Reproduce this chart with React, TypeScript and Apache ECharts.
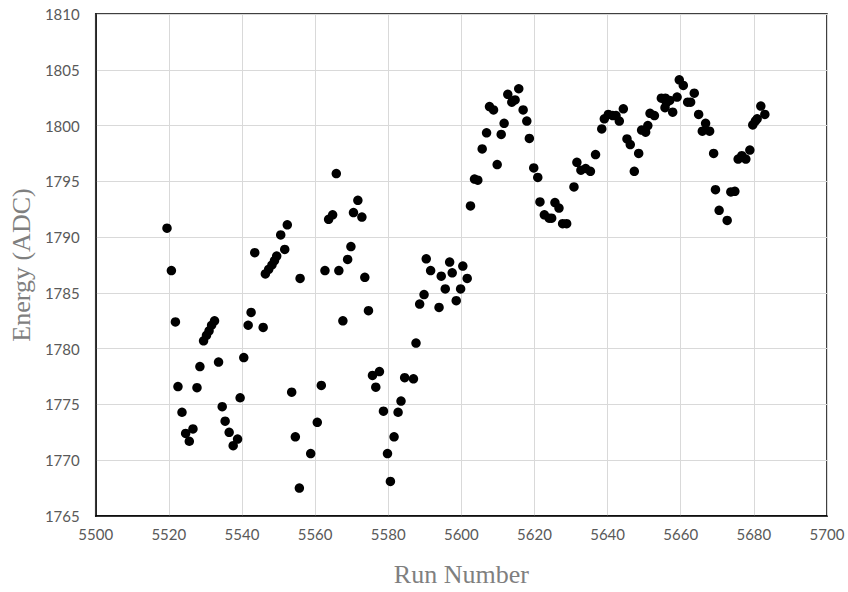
import React, { useEffect, useRef } from "react";
import * as echarts from "echarts";

// Run numbers and measured energies (ADC), in run order
const runs: number[] = [
  5519.5, 5520.7, 5521.8, 5522.5, 5523.6, 5524.6, 5525.6, 5526.6, 5527.7, 5528.5,
  5529.5, 5530.3, 5531.0, 5531.7, 5532.5, 5533.6, 5534.6, 5535.4, 5536.5, 5537.6,
  5538.8, 5539.5, 5540.5, 5541.7, 5542.5, 5543.5, 5545.8, 5546.4, 5547.3, 5548.2,
  5548.9, 5549.5, 5550.6, 5551.7, 5552.4, 5553.6, 5554.6, 5555.7, 5555.9, 5558.8,
  5560.6, 5561.7, 5562.7, 5563.7, 5564.8, 5565.8, 5566.5, 5567.6, 5568.9, 5569.8,
  5570.5, 5571.7, 5572.8, 5573.6, 5574.6, 5575.7, 5576.6, 5577.6, 5578.7, 5579.8,
  5580.6, 5581.6, 5582.7, 5583.5, 5584.5, 5586.9, 5587.6, 5588.6, 5589.8, 5590.4,
  5591.6, 5593.9, 5594.5, 5595.6, 5596.8, 5597.5, 5598.6, 5599.8, 5600.4, 5601.6,
  5602.5, 5603.6, 5604.5, 5605.7, 5606.9, 5607.7, 5608.8, 5609.8, 5610.9, 5611.7,
  5612.7, 5613.8, 5614.7, 5615.7, 5616.9, 5617.9, 5618.6, 5619.8, 5620.9, 5621.5,
  5622.7, 5624.0, 5624.7, 5625.6, 5626.7, 5627.7, 5628.8, 5630.8, 5631.6, 5632.7,
  5634.0, 5635.3, 5636.7, 5638.4, 5639.1, 5640.2, 5641.4, 5642.3, 5643.2, 5644.3,
  5645.3, 5646.2, 5647.3, 5648.5, 5649.3, 5650.4, 5651.0, 5651.6, 5652.8, 5654.7,
  5655.7, 5655.8, 5656.1, 5657.0, 5657.8, 5659.0, 5659.6, 5660.7, 5661.9, 5662.7,
  5663.7, 5664.9, 5665.9, 5666.8, 5667.9, 5669.0, 5669.5, 5670.5, 5672.7, 5673.7,
  5674.8, 5675.7, 5676.7, 5677.8, 5678.9, 5679.7, 5680.4, 5680.9, 5681.9, 5683.0,
];

const energies: number[] = [
  1790.8, 1787.0, 1782.4, 1776.6, 1774.3, 1772.4, 1771.7, 1772.8, 1776.5, 1778.4,
  1780.7, 1781.2, 1781.6, 1782.1, 1782.5, 1778.8, 1774.8, 1773.5, 1772.5, 1771.3,
  1771.9, 1775.6, 1779.2, 1782.1, 1783.25, 1788.6, 1781.9, 1786.7, 1787.1, 1787.5,
  1787.9, 1788.3, 1790.2, 1788.9, 1791.1, 1776.1, 1772.1, 1767.5, 1786.3, 1770.6,
  1773.4, 1776.7, 1787.0, 1791.6, 1792.0, 1795.7, 1787.0, 1782.5, 1788.0, 1789.15,
  1792.2, 1793.3, 1791.8, 1786.4, 1783.4, 1777.6, 1776.55, 1777.95, 1774.4, 1770.6,
  1768.1, 1772.1, 1774.3, 1775.3, 1777.4, 1777.3, 1780.5, 1784.0, 1784.85, 1788.05,
  1787.0, 1783.7, 1786.5, 1785.35, 1787.76, 1786.8, 1784.3, 1785.35, 1787.4, 1786.3,
  1792.8, 1795.2, 1795.1, 1797.9, 1799.35, 1801.7, 1801.4, 1796.5, 1799.2, 1800.2,
  1802.8, 1802.1, 1802.3, 1803.3, 1801.4, 1800.4, 1798.85, 1796.2, 1795.35, 1793.15,
  1792.0, 1791.7, 1791.7, 1793.1, 1792.6, 1791.2, 1791.2, 1794.5, 1796.7, 1796.0,
  1796.15, 1795.9, 1797.4, 1799.7, 1800.6, 1801.0, 1800.9, 1800.9, 1800.4, 1801.5,
  1798.8, 1798.3, 1795.9, 1797.5, 1799.6, 1799.4, 1800.0, 1801.1, 1800.9, 1802.45,
  1801.6, 1802.45, 1802.05, 1802.25, 1801.2, 1802.55, 1804.1, 1803.6, 1802.1, 1802.1,
  1802.9, 1801.0, 1799.5, 1800.2, 1799.5, 1797.5, 1794.25, 1792.4, 1791.5, 1794.05,
  1794.1, 1797.0, 1797.3, 1797.0, 1797.8, 1800.06, 1800.4, 1800.6, 1801.75, 1801.0,
];

const xTitle = "Run Number";
const yTitle = "Energy (ADC)";

export default function App() {
  const ref = useRef<HTMLDivElement>(null);

  useEffect(() => {
    document.body.style.margin = "0";
    if (!ref.current) return;
    const chart = echarts.init(ref.current, null, { renderer: "svg" });
    const points = runs.map((r, i) => [r, energies[i]]);
    const tickFont = {
      fontFamily: "Lato",
      fontSize: 15,
      color: "#595959",
      formatter: (v: number) => String(v),
    };
    const titleFont = {
      fontFamily: "Liberation Serif",
      fontSize: 26,
      color: "#7f7f7f",
    };

    chart.setOption({
      animation: false,
      backgroundColor: "#ffffff",
      grid: {
        left: 93,
        right: 21,
        top: 14,
        bottom: 72,
        show: true,
        borderColor: "#000000",
        borderWidth: 1.5,
      },
      xAxis: {
        type: "value",
        min: 5500,
        max: 5700,
        interval: 20,
        name: xTitle,
        nameLocation: "middle",
        nameGap: 45,
        nameTextStyle: titleFont,
        axisLine: { show: true, lineStyle: { color: "#000000", width: 1.5 } },
        axisTick: { show: false },
        axisLabel: { ...tickFont, margin: 10 },
        splitLine: { show: true, lineStyle: { color: "#d9d9d9", width: 1 } },
      },
      yAxis: {
        type: "value",
        min: 1765,
        max: 1810,
        interval: 5,
        name: yTitle,
        nameLocation: "middle",
        nameGap: 58,
        nameRotate: 90,
        nameTextStyle: titleFont,
        axisLine: { show: true, lineStyle: { color: "#000000", width: 1.5 } },
        axisTick: { show: false },
        axisLabel: { ...tickFont, margin: 16 },
        splitLine: { show: true, lineStyle: { color: "#d9d9d9", width: 1 } },
      },
      series: [
        {
          type: "scatter",
          data: points,
          symbol: "circle",
          symbolSize: 9.5,
          itemStyle: { color: "#000000", opacity: 1 },
        },
      ],
    });

    return () => chart.dispose();
  }, []);

  return (
    <div
      ref={ref}
      style={{ position: "absolute", left: 0, top: 0, width: 848, height: 592 }}
    />
  );
}
